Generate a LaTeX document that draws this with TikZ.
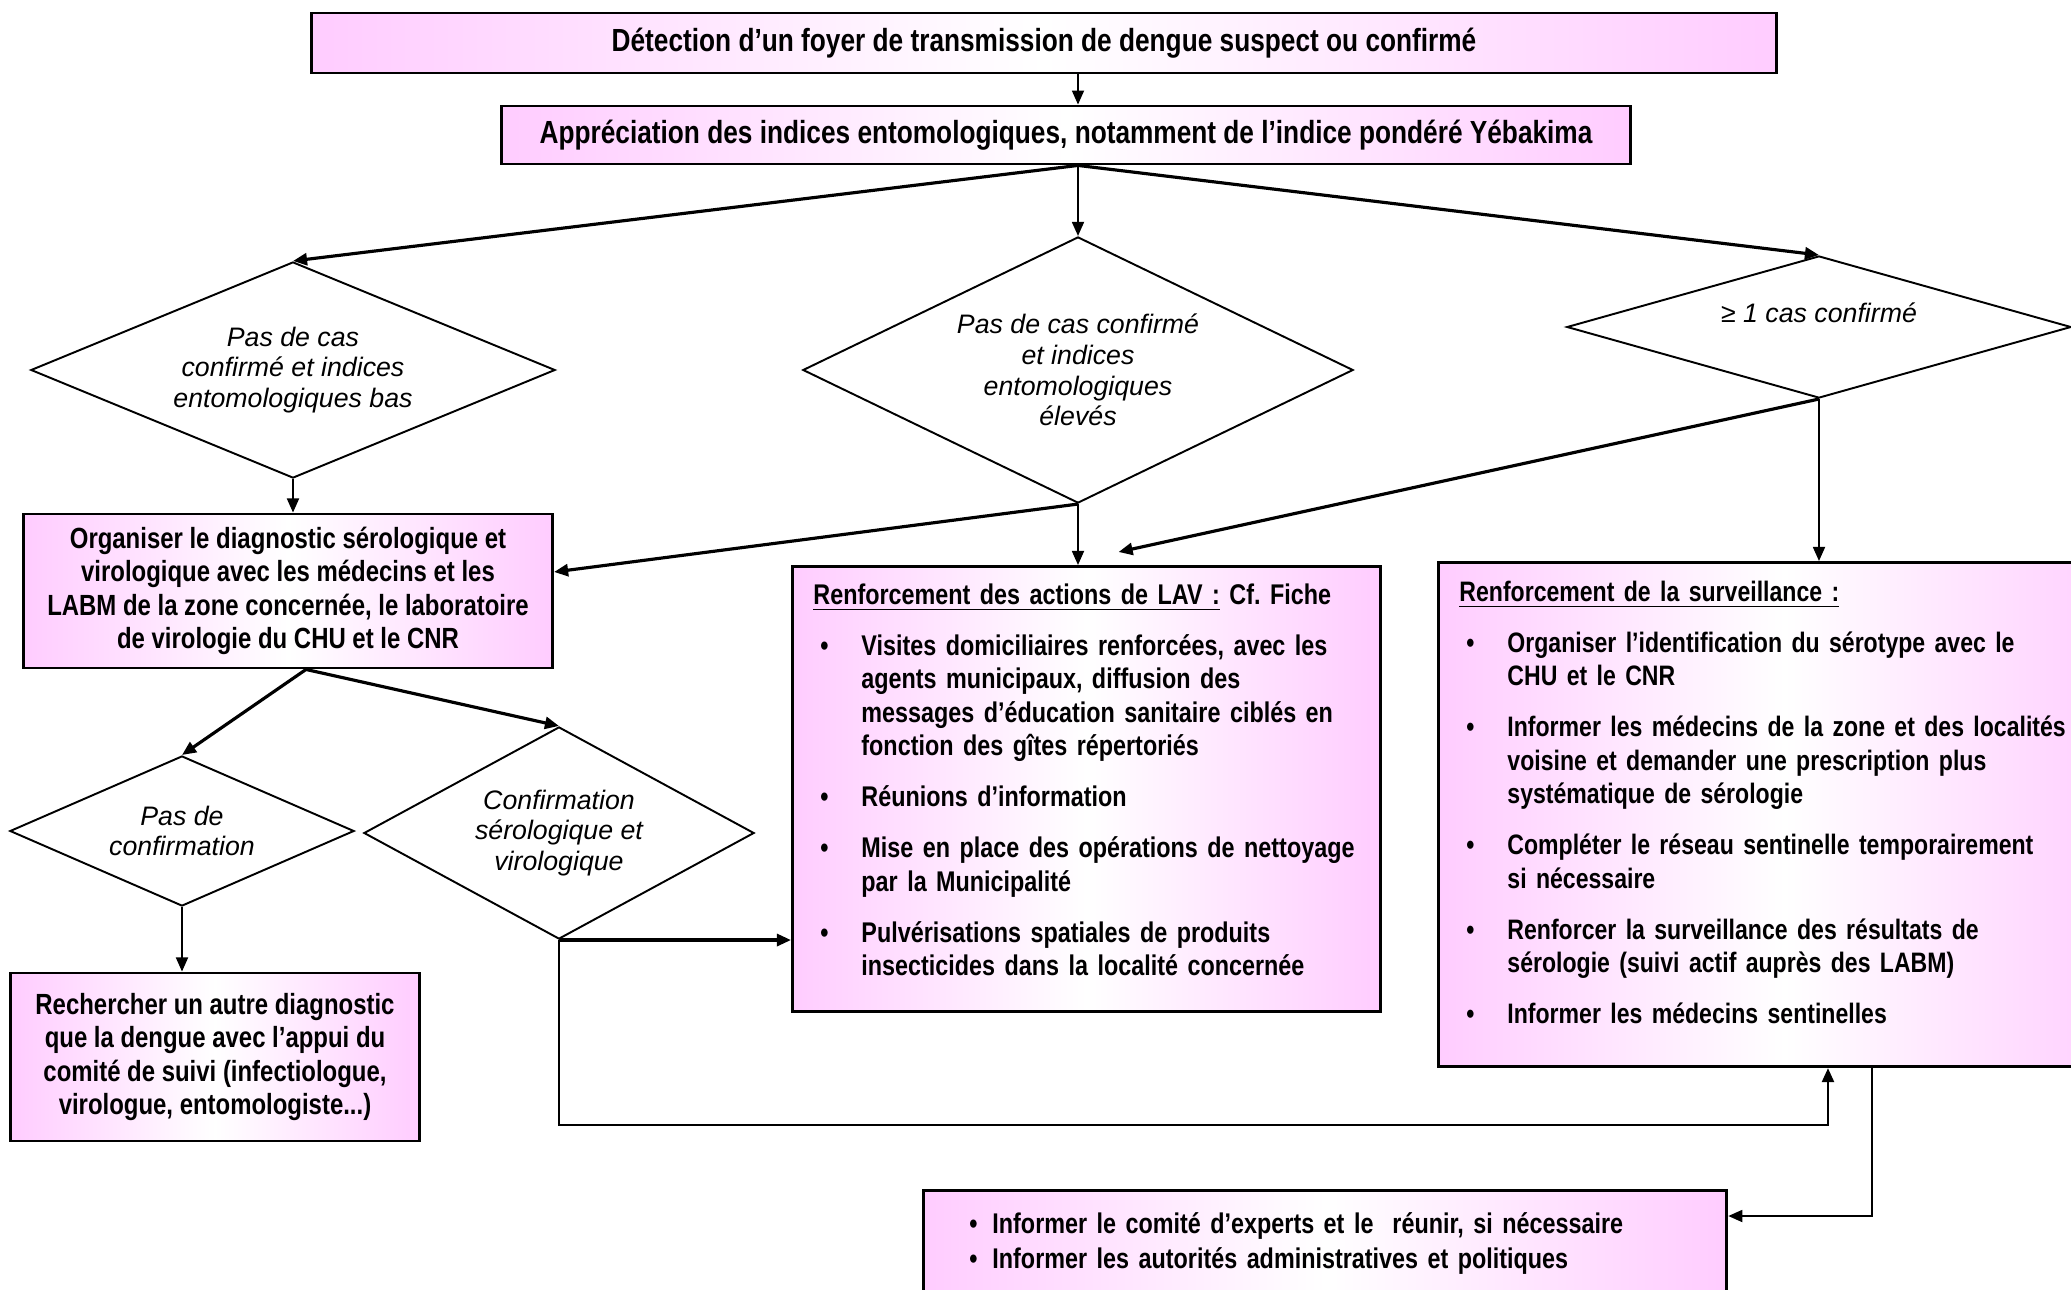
\documentclass[tikz,border=0pt]{standalone}
\usepackage{fontspec}
\setmainfont{Liberation Sans}[FakeStretch=0.82]
\newfontfamily\losfont{Liberation Sans}
\usepackage{tikz}
\usetikzlibrary{shapes.geometric,arrows.meta,positioning,calc}
\definecolor{rose}{RGB}{255,204,255}
\newcommand{\puce}[2][0.07cm]{\par\noindent\hangindent=0.48cm\hangafter=1\makebox[0.48cm][l]{\hspace{#1}\textbullet}#2\par}

\begin{document}
\begin{tikzpicture}[x=0.01cm, y=-0.01cm, >={Triangle[length=4pt,width=3.4pt]}]
\tikzstyle{cadre}=[draw, line width=0.8pt, left color=rose, right color=rose, middle color=white, font=\bfseries\fontsize{8.3}{9.5}\selectfont]
\tikzstyle{boite}=[cadre, align=center, inner sep=0pt]
\tikzstyle{liste}=[cadre, anchor=north west, inner xsep=0.21cm, inner ysep=0.03cm, font=\bfseries\fontsize{8.1}{9.5}\selectfont\frenchspacing]
\tikzstyle{losange}=[draw, diamond, line width=0.55pt, inner sep=0pt, font=\losfont\itshape\fontsize{7.6}{8.7}\selectfont, align=center]
\tikzstyle{gros}=[->, line width=0.9pt]
\tikzstyle{fin}=[->, line width=0.55pt]
\useasboundingbox (0,0) rectangle (2071,1290);

\node[boite, minimum width=14.64cm, minimum height=0.6cm, font=\bfseries\fontsize{9.1}{10.4}\selectfont] (det) at (1044,43) {Détection d’un foyer de transmission de dengue suspect ou confirmé};
\node[boite, minimum width=11.28cm, minimum height=0.58cm, font=\bfseries\fontsize{9.1}{10.4}\selectfont] (app) at (1066,135) {Appréciation des indices entomologiques, notamment de l’indice pondéré Yébakima};

\node[losange, minimum width=5.24cm, minimum height=2.16cm, aspect=2.43] (l1) at (293,370) {Pas de cas\\confirmé et indices\\entomologiques bas};
\node[losange, minimum width=5.5cm, minimum height=2.66cm, aspect=2.07] (l2) at (1078,370) {Pas de cas confirmé\\et indices\\entomologiques\\élevés};
\node[losange, minimum width=5.04cm, minimum height=1.42cm, aspect=3.55, text depth=0.28cm] (l3) at (1819,327) {≥ 1 cas confirmé};

\node[boite, minimum width=5.29cm, minimum height=1.54cm] (b1) at (288,591) {Organiser le diagnostic sérologique et\\virologique avec les médecins et les\\LABM de la zone concernée, le laboratoire\\de virologie du CHU et le CNR};

\node[liste, text width=5.46cm, text height=0.35cm, text depth=4.04cm] (b2) at (791,565) {\raggedright\hyphenpenalty=10000\setlength{\parskip}{5pt}%
\noindent\underline{Renforcement des actions de LAV :} Cf. Fiche\par
\puce{Visites domiciliaires renforcées, avec les\newline agents municipaux, diffusion des\newline messages d’éducation sanitaire ciblés en\newline fonction des gîtes répertoriés}
\puce{Réunions d’information}
\puce{Mise en place des opérations de nettoyage\newline par la Municipalité}
\puce{Pulvérisations spatiales de produits\newline insecticides dans la localité concernée}};

% boîte coupée par le bord droit
\node[liste, text width=6.5cm, text height=0.36cm, text depth=4.62cm, font=\bfseries\fontsize{8.0}{9.5}\selectfont\frenchspacing] (b3) at (1437,561) {\raggedright\hyphenpenalty=10000\setlength{\parskip}{5pt}%
\noindent\underline{Renforcement de la surveillance :}\par
\puce{Organiser l’identification du sérotype avec le\newline CHU et le CNR}
\puce{Informer les médecins de la zone et des localités\newline voisine et demander une prescription plus\newline systématique de sérologie}
\puce{Compléter le réseau sentinelle temporairement\newline si nécessaire}
\puce{Renforcer la surveillance des résultats de\newline sérologie (suivi actif auprès des LABM)}
\puce{Informer les médecins sentinelles}};

\node[losange, minimum width=3.44cm, minimum height=1.5cm, aspect=2.29] (l4) at (182,831) {Pas de\\confirmation};
\node[losange, minimum width=3.9cm, minimum height=2.12cm, aspect=1.84] (l5) at (559,833) {Confirmation\\sérologique et\\virologique};

\node[boite, minimum width=4.08cm, minimum height=1.68cm] (b4) at (215,1057) {Rechercher un autre diagnostic\\que la dengue avec l’appui du\\comité de suivi (infectiologue,\\virologue, entomologiste...)};

\node[liste, text width=7.61cm, text height=0.05cm, text depth=1.09cm] (b5) at (922,1189) {\raggedright\hyphenpenalty=10000\setlength{\parskip}{0.5pt}%
\puce[0.25cm]{Informer le comité d’experts et le \ réunir, si nécessaire}
\puce[0.25cm]{Informer les autorités administratives et politiques}};

\coordinate (r1) at (1828,1125);
\coordinate (r2) at (1872,1216);

\path[fin] (det.south -| l2.north) edge (app.north -| l2.north);
\path[gros] (app.south -| l2.north) edge (l1.north);
\path[fin] (app.south -| l2.north) edge (l2.north);
\path[gros] (app.south -| l2.north) edge (l3.north);
\path[fin] (l1.south) edge (l1.south |- b1.north);
\path[gros] (l2.south) edge ([yshift=0.19cm]b1.east);
\path[fin] (l2.south) edge (l2.south |- b2.north);
\path[gros] (l3.south) edge ([xshift=0.32cm,yshift=0.13cm]b2.north);
\path[fin] (l3.south) edge (l3.south |- b3.north);
\path[gros] ([xshift=0.18cm]b1.south) edge (l4.north);
\path[gros] ([xshift=0.18cm]b1.south) edge (l5.north);
\path[fin] (l4.south) edge (l4.south |- b4.north);
\path[gros] (l5.south) edge (l5.south -| b2.west);
\draw[->, line width=0.75pt] (l5.south) |- (r1) -- (r1 |- b3.south);
\draw[fin] (r2 |- b3.south) -- (r2) -- (r2 -| b5.east);
\end{tikzpicture}
\end{document}
